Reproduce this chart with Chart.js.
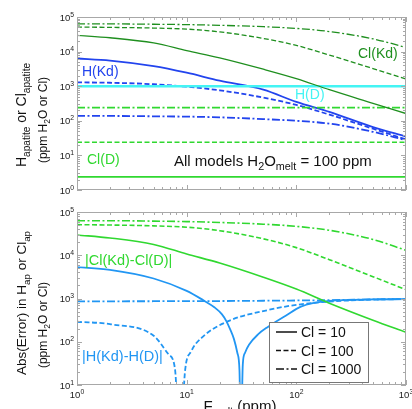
<!DOCTYPE html>
<html>
<head>
<meta charset="utf-8">
<script src="https://cdn.jsdelivr.net/npm/chart.js@4"></script>
<style>
  body { margin: 0; background: #fff; }
  #wrap { position: relative; width: 412px; height: 409px; overflow: hidden; }
  canvas { position: absolute; left: 0; }
</style>
</head>
<body>
<div id="wrap">
  <canvas id="topChart" width="412" height="205" style="top:0"></canvas>
  <canvas id="bottomChart" width="412" height="204" style="top:205px"></canvas>
</div>
<script>
// F in melt (ppm), sample points
const fMelt = [1, 2, 5, 10, 20, 50, 100, 200, 500, 1000];
const fEnds = [1, 1000];

// top panel: apatite contents (ppm)
const clKd10 = [29500, 25100, 17800, 10700, 6600, 3100, 1660, 790, 320, 162];
const clKd100 = [51300, 50100, 47900, 44700, 37200, 24000, 15100, 7940, 3240, 1620];
const clKd1000 = [63100, 63100, 61700, 60300, 57500, 52500, 46800, 38000, 23400, 13200];
const hKd10 = [6310, 5500, 3800, 2450, 1450, 800, 350, 180, 66, 35];
const hKd100 = [1290, 1257, 1138, 968, 760, 468, 288, 151, 59, 29];
const hKd1000 = [138, 138, 135, 132, 126, 112, 100, 83, 48, 27.5];
const hD = [1000, 1000];
const clD10 = [2.4, 2.4];
const clD100 = [24, 24];
const clD1000 = [240, 240];

// bottom panel: abs(error)
const errCl10 = [29500, 25100, 17800, 10700, 6600, 3100, 1650, 780, 315, 165];
const errCl100 = [51000, 50000, 47800, 44500, 37000, 24000, 15000, 7900, 3200, 1600];
const errCl1000 = [63000, 63000, 61500, 60000, 57300, 52300, 46500, 37800, 23200, 13000];
const errH1000 = [862, 862, 865, 868, 874, 888, 900, 917, 952, 972];
const fErrH10 = [1, 2, 5, 10, 14, 18, 21, 23, 25, 27, 29, 30.3, 31.2, 32.5, 34, 37, 45, 55, 80, 110, 200, 500, 1000];
const errH10 = [5300, 4600, 2900, 1500, 930, 620, 430, 300, 190, 115, 55, 22, 0.5, 30, 55, 85, 150, 220, 400, 650, 880, 950, 965];
const fErrH100 = [1, 2, 5, 6.8, 7.8, 8.7, 9.7, 11, 14, 24, 55, 100, 200, 500, 1000];
const errH100 = [290, 255, 138, 52, 25, 0.5, 23, 60, 130, 300, 540, 712, 850, 940, 970];

const FONT = '"Liberation Sans", Arial, Helvetica, sans-serif';
const DARK_GREEN = '#1f8f1f';
const GREEN = '#30d830';
const BLUE = '#2244ee';
const CYAN = '#44f4f4';
const LIGHT_BLUE = '#2196f3';
const DASH = [5, 2.5];
const DASHDOT = [8, 2.5, 2, 2.5];

function series(xv, yv, color, width, dash) {
  return {
    data: xv.map((x, i) => ({ x: x, y: yv[i] })),
    borderColor: color,
    borderWidth: width,
    borderDash: dash || [],
    pointRadius: 0,
    fill: false,
    cubicInterpolationMode: 'monotone'
  };
}

// text with sub/superscript pieces
function drawRich(ctx, parts, x, y, size, color, align) {
  ctx.save();
  ctx.fillStyle = color;
  ctx.textBaseline = 'alphabetic';
  ctx.textAlign = 'left';
  const sizes = parts.map(p => p[1] ? size * 0.72 : size);
  const widths = parts.map((p, i) => {
    ctx.font = sizes[i] + 'px ' + FONT;
    return ctx.measureText(p[0]).width;
  });
  const total = widths.reduce((a, b) => a + b, 0);
  let cx = align === 'center' ? x - total / 2 : align === 'right' ? x - total : x;
  parts.forEach((p, i) => {
    ctx.font = sizes[i] + 'px ' + FONT;
    const dy = p[1] === 'sub' ? size * 0.28 : p[1] === 'sup' ? -size * 0.42 : 0;
    ctx.fillText(p[0], cx, y + dy);
    cx += widths[i];
  });
  ctx.restore();
}

function drawRotated(ctx, parts, x, y, size, color) {
  ctx.save();
  ctx.translate(x, y);
  ctx.rotate(-Math.PI / 2);
  drawRich(ctx, parts, 0, 0, size, color, 'center');
  ctx.restore();
}

function logValues(min, max) {
  const out = [];
  for (let e = Math.floor(Math.log10(min)); e <= Math.ceil(Math.log10(max)); e++) {
    for (let m = 1; m <= 9; m++) {
      const v = m * Math.pow(10, e);
      if (v >= min * 0.999 && v <= max * 1.001) out.push(v);
    }
  }
  return out;
}
const isDecade = v => Math.abs(Math.log10(v) - Math.round(Math.log10(v))) < 1e-9;

function framePlugin(cfg) {
  return {
    id: 'frame',
    afterDatasetsDraw(chart) {
      const ctx = chart.ctx, a = chart.chartArea;
      const xs = chart.scales.x, ys = chart.scales.y;
      ctx.save();
      ctx.strokeStyle = '#a8a8a8';
      ctx.lineWidth = 1;
      ctx.strokeRect(a.left + 0.5, a.top + 0.5, a.right - a.left - 1, a.bottom - a.top - 1);
      ctx.beginPath();
      logValues(xs.min, xs.max).forEach(v => {
        const px = Math.round(xs.getPixelForValue(v)) + 0.5;
        const len = isDecade(v) ? 5 : 3;
        ctx.moveTo(px, a.bottom); ctx.lineTo(px, a.bottom - len);
        ctx.moveTo(px, a.top); ctx.lineTo(px, a.top + len);
      });
      logValues(ys.min, ys.max).forEach(v => {
        const py = Math.round(ys.getPixelForValue(v)) + 0.5;
        const len = isDecade(v) ? 5 : 3;
        ctx.moveTo(a.left, py); ctx.lineTo(a.left + len, py);
        ctx.moveTo(a.right, py); ctx.lineTo(a.right - len, py);
      });
      ctx.stroke();
      ctx.restore();

      // tick labels
      logValues(ys.min, ys.max).filter(isDecade).forEach(v => {
        const py = ys.getPixelForValue(v);
        drawRich(ctx, [['10'], [String(Math.round(Math.log10(v))), 'sup']], a.left - 3, py + 3.5, 9.5, '#222', 'right');
      });
      if (cfg.xLabels) {
        logValues(xs.min, xs.max).filter(isDecade).forEach(v => {
          const px = xs.getPixelForValue(v);
          drawRich(ctx, [['10'], [String(Math.round(Math.log10(v))), 'sup']], px, a.bottom + 13, 9.5, '#222', 'center');
        });
      }
      cfg.draw(ctx, chart);
    }
  };
}

function makeChart(id, datasets, yMin, yMax, padding, cfg) {
  return new Chart(document.getElementById(id), {
    type: 'line',
    data: { datasets: datasets },
    options: {
      responsive: false,
      animation: false,
      layout: { padding: padding },
      plugins: { legend: { display: false }, tooltip: { enabled: false } },
      scales: {
        x: { type: 'logarithmic', min: 1, max: 1000, display: false },
        y: { type: 'logarithmic', min: yMin, max: yMax, display: false }
      }
    },
    plugins: [framePlugin(cfg)]
  });
}

// top panel
makeChart('topChart', [
  series(fMelt, clKd10, DARK_GREEN, 1.3),
  series(fMelt, clKd100, DARK_GREEN, 1.3, DASH),
  series(fMelt, clKd1000, DARK_GREEN, 1.3, DASHDOT),
  series(fEnds, clD10, GREEN, 1.6),
  series(fEnds, clD100, GREEN, 1.6, DASH),
  series(fEnds, clD1000, GREEN, 1.6, DASHDOT),
  series(fEnds, hD, CYAN, 2.6),
  series(fMelt, hKd10, BLUE, 1.8),
  series(fMelt, hKd100, BLUE, 1.8, DASH),
  series(fMelt, hKd1000, BLUE, 1.8, DASHDOT)
], 1, 100000, { left: 77, right: 6, top: 17, bottom: 15 }, {
  xLabels: false,
  draw(ctx) {
    drawRotated(ctx, [['H'], ['apatite', 'sub'], [' or Cl'], ['apatite', 'sub']], 26, 115, 14, '#111');
    drawRotated(ctx, [['(ppm H'], ['2', 'sub'], ['O or Cl)']], 47, 120, 12, '#111');
    drawRich(ctx, [['Cl(Kd)']], 358, 58, 14, DARK_GREEN, 'left');
    drawRich(ctx, [['H(Kd)']], 82, 76, 14, BLUE, 'left');
    drawRich(ctx, [['H(D)']], 295, 99, 14, CYAN, 'left');
    drawRich(ctx, [['Cl(D)']], 87, 164, 14, GREEN, 'left');
    drawRich(ctx, [['All models H'], ['2', 'sub'], ['O'], ['melt', 'sub'], [' = 100 ppm']], 174, 166, 15, '#111', 'left');
  }
});

// bottom panel
makeChart('bottomChart', [
  series(fMelt, errCl10, GREEN, 1.6),
  series(fMelt, errCl100, GREEN, 1.6, DASH),
  series(fMelt, errCl1000, GREEN, 1.6, DASHDOT),
  series(fErrH10, errH10, LIGHT_BLUE, 1.8),
  series(fErrH100, errH100, LIGHT_BLUE, 1.8, DASH),
  series(fMelt, errH1000, LIGHT_BLUE, 1.8, DASHDOT)
], 10, 100000, { left: 77, right: 6, top: 7, bottom: 24 }, {
  xLabels: true,
  draw(ctx) {
    drawRotated(ctx, [['Abs(Error) in H'], ['ap', 'sub'], [' or Cl'], ['ap', 'sub']], 26, 98, 13.5, '#111');
    drawRotated(ctx, [['(ppm H'], ['2', 'sub'], ['O or Cl)']], 47, 120, 12, '#111');
    drawRich(ctx, [['|Cl(Kd)-Cl(D)|']], 85, 60, 14.5, GREEN, 'left');
    drawRich(ctx, [['|H(Kd)-H(D)|']], 82, 156, 14.5, LIGHT_BLUE, 'left');
    drawRich(ctx, [['F'], ['melt', 'sub'], [' (ppm)']], 240, 206, 15, '#111', 'center');

    // legend box
    ctx.save();
    ctx.fillStyle = '#fff';
    ctx.strokeStyle = '#777';
    ctx.lineWidth = 1;
    ctx.fillRect(269.5, 117.5, 99, 60);
    ctx.strokeRect(269.5, 117.5, 99, 60);
    const rows = [['Cl = 10', []], ['Cl = 100', DASH], ['Cl = 1000', DASHDOT]];
    rows.forEach((r, i) => {
      const y = 127 + i * 18.5;
      ctx.strokeStyle = '#111';
      ctx.lineWidth = 1.5;
      ctx.setLineDash(r[1]);
      ctx.beginPath();
      ctx.moveTo(276, y);
      ctx.lineTo(297, y);
      ctx.stroke();
      ctx.setLineDash([]);
      drawRich(ctx, [[r[0]]], 301, y + 5, 14, '#111', 'left');
    });
    ctx.restore();
  }
});
</script>
</body>
</html>
